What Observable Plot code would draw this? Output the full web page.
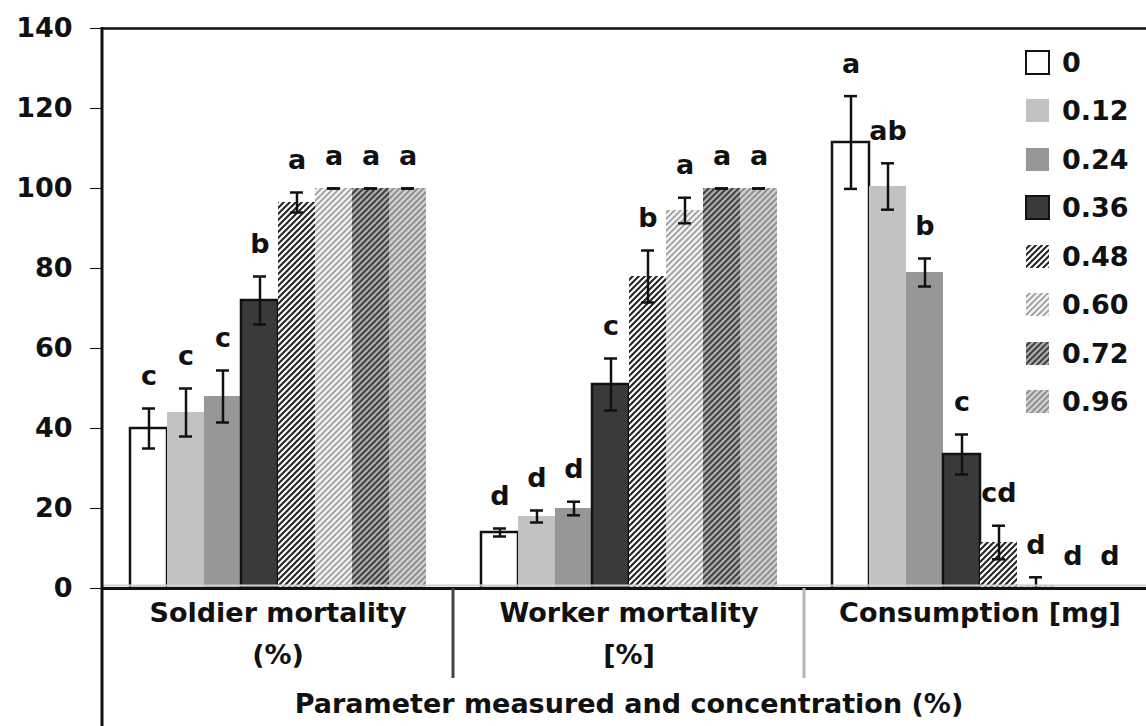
<!DOCTYPE html>
<html>
<head>
<meta charset="utf-8">
<script src="https://cdn.jsdelivr.net/npm/d3@7"></script>
<script src="https://cdn.jsdelivr.net/npm/@observablehq/plot@0.6"></script>
<style>
  html, body { margin: 0; padding: 0; background: #fff; overflow: hidden; }
  #wrap { position: relative; width: 1146px; height: 726px; overflow: hidden; }
  #chart svg { max-width: none !important; }
  #legend { position: absolute; left: 1025px; top: 38px; font-family: "DejaVu Sans", sans-serif; font-weight: bold; font-size: 27px; color: #111; }
  .row { display: flex; align-items: center; height: 48.5px; }
  .row svg { margin-right: 12px; }
</style>
</head>
<body>
<svg width="0" height="0" style="position:absolute">
  <defs>
    <pattern id="p48" patternUnits="userSpaceOnUse" width="6" height="6">
      <rect width="6" height="6" fill="#ffffff"/>
      <path d="M-1,7 L7,-1 M-4,4 L4,-4 M2,10 L10,2" stroke="#222" stroke-width="2"/>
    </pattern>
    <pattern id="p60" patternUnits="userSpaceOnUse" width="6" height="6">
      <rect width="6" height="6" fill="#f2f2f2"/>
      <path d="M-1,7 L7,-1 M-4,4 L4,-4 M2,10 L10,2" stroke="#9a9a9a" stroke-width="1.6"/>
    </pattern>
    <pattern id="p72" patternUnits="userSpaceOnUse" width="6" height="6">
      <rect width="6" height="6" fill="#a8a8a8"/>
      <path d="M-1,7 L7,-1 M-4,4 L4,-4 M2,10 L10,2" stroke="#383838" stroke-width="1.8"/>
    </pattern>
    <pattern id="p96" patternUnits="userSpaceOnUse" width="6" height="6">
      <rect width="6" height="6" fill="#cfcfcf"/>
      <path d="M-1,7 L7,-1 M-4,4 L4,-4 M2,10 L10,2" stroke="#8a8a8a" stroke-width="1.8"/>
    </pattern>
  </defs>
</svg>
<div id="wrap">
  <div id="chart"></div>
  <div id="legend"></div>
</div>
<script>
// ---- data ----
const params = ["Soldier mortality (%)", "Worker mortality [%]", "Consumption [mg]"];
const paramLabels = ["Soldier mortality\n(%)", "Worker mortality\n[%]", "Consumption [mg]"];
const axisTitle = "Parameter measured and concentration (%)";
const concs = ["0", "0.12", "0.24", "0.36", "0.48", "0.60", "0.72", "0.96"];

const soldierMean = [40, 44, 48, 72, 96.5, 100, 100, 100];
const soldierErr = [5, 6, 6.5, 6, 2.5, 0, 0, 0];
const soldierLetters = ["c", "c", "c", "b", "a", "a", "a", "a"];

const workerMean = [14, 18, 20, 51, 78, 94.5, 100, 100];
const workerErr = [1, 1.5, 1.7, 6.5, 6.5, 3.2, 0, 0];
const workerLetters = ["d", "d", "d", "c", "b", "a", "a", "a"];

const consMean = [111.5, 100.5, 79, 33.5, 11.5, 0.8, 0, 0];
const consErr = [11.6, 5.8, 3.5, 5, 4.2, 2, 0, 0];
const consLetters = ["a", "ab", "b", "c", "cd", "d", "d", "d"];

const yTicks = [0, 20, 40, 60, 80, 100, 120, 140];

// styles per concentration
const fills = ["#ffffff", "#c2c2c2", "#979797", "#3a3a3a", "url(#p48)", "url(#p60)", "url(#p72)", "url(#p96)"];
const strokes = ["#111", "none", "none", "#111", "none", "none", "none", "none"];

// ---- build table ----
const series = [
  [soldierMean, soldierErr, soldierLetters],
  [workerMean, workerErr, workerLetters],
  [consMean, consErr, consLetters]
];
const rows = [];
params.forEach((p, gi) => {
  const [m, e, l] = series[gi];
  concs.forEach((c, ci) => {
    rows.push({param: p, conc: c, mean: m[ci], err: e[ci], letter: l[ci],
      lo: Math.max(0, m[ci] - e[ci]), hi: m[ci] + e[ci]});
  });
});
const labelRows = params.map((p, i) => ({param: p, label: paramLabels[i]}));

const strokeOf = d => strokes[concs.indexOf(d.conc)];

const chart = Plot.plot({
  width: 1160,
  height: 726,
  marginLeft: 102,
  marginRight: 5,
  marginTop: 28,
  marginBottom: 138,
  style: {fontFamily: "DejaVu Sans, sans-serif", fontSize: "27px", fontWeight: "bold", color: "#111", background: "#fff", maxWidth: "none"},
  fx: {domain: params, padding: 0, tickSize: 0, tickFormat: () => "", label: axisTitle, labelAnchor: "center", labelOffset: 124},
  x: {domain: concs, axis: null, paddingInner: 0, paddingOuter: 0.68},
  y: {domain: [0, 140], ticks: yTicks, tickSize: 12, tickPadding: 18, label: null},
  color: {type: "ordinal", domain: concs, range: fills},
  marks: [
    Plot.ruleY([140], {stroke: "#111", strokeWidth: 2.5}),
    Plot.barY(rows, {fx: "param", x: "conc", y: "mean", fill: "conc", stroke: strokeOf, strokeWidth: 2.5, insetLeft: 0, insetRight: 0}),
    Plot.ruleX(rows, {fx: "param", x: "conc", y1: "lo", y2: "hi", stroke: "#111", strokeWidth: 2.5}),
    Plot.tickY(rows, {fx: "param", x: "conc", y: "hi", stroke: "#111", strokeWidth: 2.5, insetLeft: 12, insetRight: 12}),
    Plot.tickY(rows.filter(d => d.mean - d.err > 0), {fx: "param", x: "conc", y: "lo", stroke: "#111", strokeWidth: 2.5, insetLeft: 12, insetRight: 12}),
    Plot.text(rows, {fx: "param", x: "conc", y: "hi", text: "letter", dy: -32, fontSize: 27, fontWeight: "bold", fill: "#111"}),
    Plot.ruleY([0], {stroke: "#d0d0d0", strokeWidth: 2, dy: -3}),
    Plot.ruleY([0], {stroke: "#111", strokeWidth: 3}),
    Plot.text(labelRows, {fx: "param", text: "label", frameAnchor: "bottom", lineAnchor: "top", dy: 4, lineHeight: 1.55, fontSize: 27, fontWeight: "bold", fill: "#111"})
  ]
});
document.getElementById("chart").appendChild(chart);

// table lines derived from Plot's scales
const fxS = chart.scale("fx");
const yS = chart.scale("y");
const svg = d3.select(chart);
const x0 = fxS.range[0];
const yTop = yS.apply(140);
const yZero = yS.apply(0);
svg.append("line").attr("x1", x0).attr("x2", x0).attr("y1", yTop - 1).attr("y2", 726)
  .attr("stroke", "#111").attr("stroke-width", 3);
const divColors = ["#444", "#b5b5b5"];
params.slice(1).forEach((p, i) => {
  const xx = fxS.apply(p);
  svg.append("line").attr("x1", xx).attr("x2", xx).attr("y1", yZero).attr("y2", yZero + 90)
    .attr("stroke", divColors[i]).attr("stroke-width", 3);
});

// legend
const legend = document.getElementById("legend");
concs.forEach((c, i) => {
  const row = document.createElement("div");
  row.className = "row";
  const st = strokes[i];
  row.innerHTML = `<svg width="25" height="25"><rect x="1" y="1" width="23" height="23" fill="${fills[i]}" stroke="${st}" stroke-width="${st === 'none' ? 0 : 2}"/></svg><span>${c}</span>`;
  legend.appendChild(row);
});
</script>
</body>
</html>
